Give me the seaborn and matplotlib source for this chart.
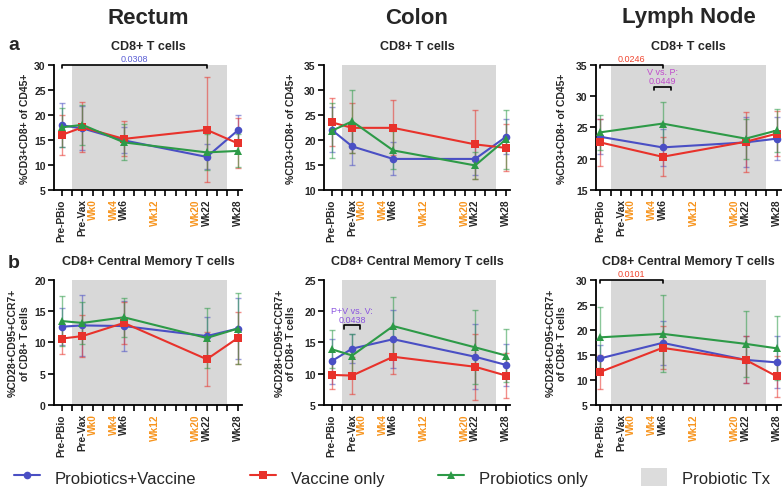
import numpy as np
import pandas as pd
import matplotlib
matplotlib.use("Agg")
import matplotlib.pyplot as plt
import seaborn as sns
from matplotlib.lines import Line2D
from matplotlib.patches import Patch

sns.set_theme(style="ticks")
plt.rcParams["font.family"] = ["Liberation Sans", "DejaVu Sans"]

# groups, in drawing order
groups = ["Probiotics+Vaccine", "Vaccine only", "Probiotics only"]
colors = {"Probiotics+Vaccine": "#4a4fc4", "Vaccine only": "#e8322b", "Probiotics only": "#2d9a47"}
markers = {"Probiotics+Vaccine": "o", "Vaccine only": "s", "Probiotics only": "^"}

# sampling weeks
weeks_gut = [-6, -2, 6, 22, 28]
weeks_ln = [-6, 6, 22, 28]

# x axis ticks every 2 weeks, only some labelled
tick_weeks = list(range(-6, 29, 2))
tick_text = {-6: "Pre-PBio", -2: "Pre-Vax", 0: "Wk0", 4: "Wk4", 6: "Wk6",
             12: "Wk12", 20: "Wk20", 22: "Wk22", 28: "Wk28"}
orange_ticks = ["Wk0", "Wk4", "Wk12", "Wk20"]

# rows: Probiotics+Vaccine, Vaccine only, Probiotics only
rectum_t_mean = [[17.9, 17.3, 14.9, 11.6, 16.9],
                 [16.0, 17.5, 15.2, 17.0, 14.3],
                 [17.5, 18.0, 14.5, 12.5, 12.8]]
rectum_t_err = [[4.4, 4.4, 2.6, 2.5, 3.0],
                [4.0, 5.0, 3.5, 10.5, 5.0],
                [3.9, 4.0, 3.6, 3.6, 3.3]]

colon_t_mean = [[22.0, 18.7, 16.2, 16.2, 20.6],
                [23.5, 22.4, 22.4, 19.1, 18.4],
                [21.8, 23.7, 17.9, 14.9, 20.1]]
colon_t_err = [[4.5, 3.7, 3.3, 3.2, 3.5],
               [4.8, 5.0, 5.5, 6.9, 4.7],
               [5.5, 6.3, 3.8, 2.7, 5.9]]

ln_t_mean = [[23.5, 21.8, 22.6, 23.2],
             [22.6, 20.3, 22.7, 24.0],
             [24.2, 25.6, 23.2, 24.5]]
ln_t_err = [[2.8, 3.0, 4.0, 3.4],
            [3.7, 3.1, 4.8, 3.6],
            [2.8, 3.5, 3.2, 3.4]]

rectum_cm_mean = [[12.5, 12.7, 12.6, 11.0, 12.2],
                  [10.6, 11.0, 13.1, 7.3, 10.7],
                  [13.4, 13.1, 14.0, 10.7, 12.2]]
rectum_cm_err = [[3.0, 4.9, 4.0, 3.1, 4.8],
                 [2.4, 3.4, 3.4, 4.3, 4.1],
                 [4.0, 3.4, 3.1, 4.8, 5.6]]

colon_cm_mean = [[12.0, 14.0, 15.5, 12.7, 11.4],
                 [9.8, 9.7, 12.7, 11.1, 9.7],
                 [13.9, 12.9, 17.6, 14.2, 12.9]]
colon_cm_err = [[3.6, 2.3, 4.6, 5.2, 3.3],
                [2.2, 2.9, 2.8, 5.3, 3.6],
                [3.0, 3.4, 4.7, 5.9, 4.3]]

ln_cm_mean = [[14.3, 17.4, 14.0, 13.5],
              [11.6, 16.4, 14.0, 10.7],
              [18.5, 19.2, 17.2, 16.3]]
ln_cm_err = [[2.6, 4.4, 4.7, 5.2],
             [3.4, 4.3, 4.7, 4.1],
             [6.1, 7.7, 6.6, 6.4]]

SHADE = "#d8d8d8"
ORANGE = "#f7941d"

fig = plt.figure(figsize=(7.84, 4.89), dpi=100)

W, H = 784.0, 489.0
def px_axes(left, top, width, height):
    return fig.add_axes([left / W, 1 - (top + height) / H, width / W, height / H])


def draw_panel(ax, weeks, means, errs, ylim, ystep, xlim):
    ax.axvspan(-4, 26, color=SHADE, lw=0, zorder=0)
    for g, m, e in zip(groups, means, errs):
        ax.errorbar(weeks, m, yerr=e, fmt="none", ecolor=colors[g], alpha=0.55,
                    elinewidth=1.0, capsize=2.5, capthick=1.0, zorder=2)
        df = pd.DataFrame({"week": weeks, "value": m})
        sns.lineplot(data=df, x="week", y="value", ax=ax, color=colors[g],
                     marker=markers[g], markersize=5.5, markeredgewidth=0,
                     linewidth=1.5, zorder=3)
    ax.set_xlim(*xlim)
    ax.set_ylim(*ylim)
    ax.set_yticks(np.arange(ylim[0], ylim[1] + 0.1, ystep))
    ax.set_xticks(tick_weeks)
    ax.set_xticklabels([tick_text.get(w, "") for w in tick_weeks], rotation=90,
                       fontsize=7.3, fontweight="bold")
    for lbl in ax.get_xticklabels():
        if lbl.get_text() in orange_ticks:
            lbl.set_color(ORANGE)
    for lbl in ax.get_yticklabels():
        lbl.set_fontsize(7.5)
        lbl.set_fontweight("bold")
    ax.set_xlabel("")
    ax.set_ylabel("")
    sns.despine(ax=ax)
    for s in ["left", "bottom"]:
        ax.spines[s].set_linewidth(1.3)
        ax.spines[s].set_color("black")
    ax.tick_params(direction="out", length=4, width=1.2, color="black", pad=2)
    ax.set_facecolor("none")


def bracket(ax, x0, x1, y, drop, text, color, ty):
    ax.plot([x0, x0, x1, x1], [y - drop, y, y, y - drop], color="black", lw=1.2,
            clip_on=False, zorder=5)
    ax.text((x0 + x1) / 2, ty, text, color=color, ha="center", va="bottom",
            fontsize=6.5, linespacing=1.0)


rows = [
    dict(top=65.7, title="CD8+ T cells", ylabel="%CD3+CD8+ of CD45+",
         panels=[(rectum_t_mean, rectum_t_err, weeks_gut, (5, 30), 5),
                 (colon_t_mean, colon_t_err, weeks_gut, (10, 35), 5),
                 (ln_t_mean, ln_t_err, weeks_ln, (15, 35), 5)]),
    dict(top=280.7, title="CD8+ Central Memory T cells",
         ylabel="%CD28+CD95+CCR7+\nof CD8+ T cells",
         panels=[(rectum_cm_mean, rectum_cm_err, weeks_gut, (0, 20), 5),
                 (colon_cm_mean, colon_cm_err, weeks_gut, (5, 25), 5),
                 (ln_cm_mean, ln_cm_err, weeks_ln, (5, 30), 5)]),
]
# left px, width px, x range, y label offset (axes fraction)
cols = [(54, 188, (-7.5, 28.8), -0.13),
        (324, 186, (-7.5, 28.8), -0.15),
        (596, 185, (-6.8, 28.8), -0.155)]

axes = [[None] * 3 for _ in range(2)]
for r, row in enumerate(rows):
    for c, (left, width, xlim, lx) in enumerate(cols):
        ax = px_axes(left, row["top"], width, 125.3)
        mean, err, weeks, ylim, ystep = row["panels"][c]
        draw_panel(ax, weeks, mean, err, ylim, ystep, xlim)
        ax.text(0.5, 1.15, row["title"], transform=ax.transAxes, ha="center",
                va="center", fontsize=9, fontweight="bold")
        ax.set_ylabel(row["ylabel"], fontsize=7.5, fontweight="bold", linespacing=1.2)
        ax.yaxis.set_label_coords(lx, 0.5)
        axes[r][c] = ax

# column headers
for c, name in enumerate(["Rectum", "Colon", "Lymph Node"]):
    left, width = cols[c][0], cols[c][1]
    fig.text((left + width / 2) / W, 1 - 18 / H, name, ha="center", va="center",
             fontsize=16, fontweight="bold")

fig.text(8 / W, 1 - 45 / H, "a", fontsize=14, fontweight="bold", va="center")
fig.text(8 / W, 1 - 263 / H, "b", fontsize=14, fontweight="bold", va="center")

# significance annotations
bracket(axes[0][0], -6, 22, 30, 0.6, "0.0308", "#5b5fd6", 30.3)
bracket(axes[0][2], -6, 6, 35, 0.5, "0.0246", "#f0452f", 35.25)
bracket(axes[0][2], 4.4, 7.6, 31.4, 0.5, "V vs. P:\n0.0449", "#c04ccc", 31.8)
bracket(axes[1][1], -3.6, -0.4, 17.7, 0.6, "P+V vs. V:\n0.0438", "#8b55e0", 18.0)
bracket(axes[1][2], -6, 6, 30, 0.6, "0.0101", "#f0452f", 30.3)

# legend
handles = [Line2D([], [], color=colors[g], marker=markers[g], markersize=5.5,
                  markeredgewidth=0, lw=1.5) for g in groups]
handles.append(Patch(facecolor="#dcdcdc", edgecolor="none"))
fig.legend(handles, groups + ["Probiotic Tx"], loc="center",
           bbox_to_anchor=(0.5, 11 / H), ncol=4, frameon=False, fontsize=12,
           handlelength=1.55, handleheight=1.3, handletextpad=0.9, columnspacing=3.2)

fig.savefig("out.png", dpi=100, facecolor="white")
